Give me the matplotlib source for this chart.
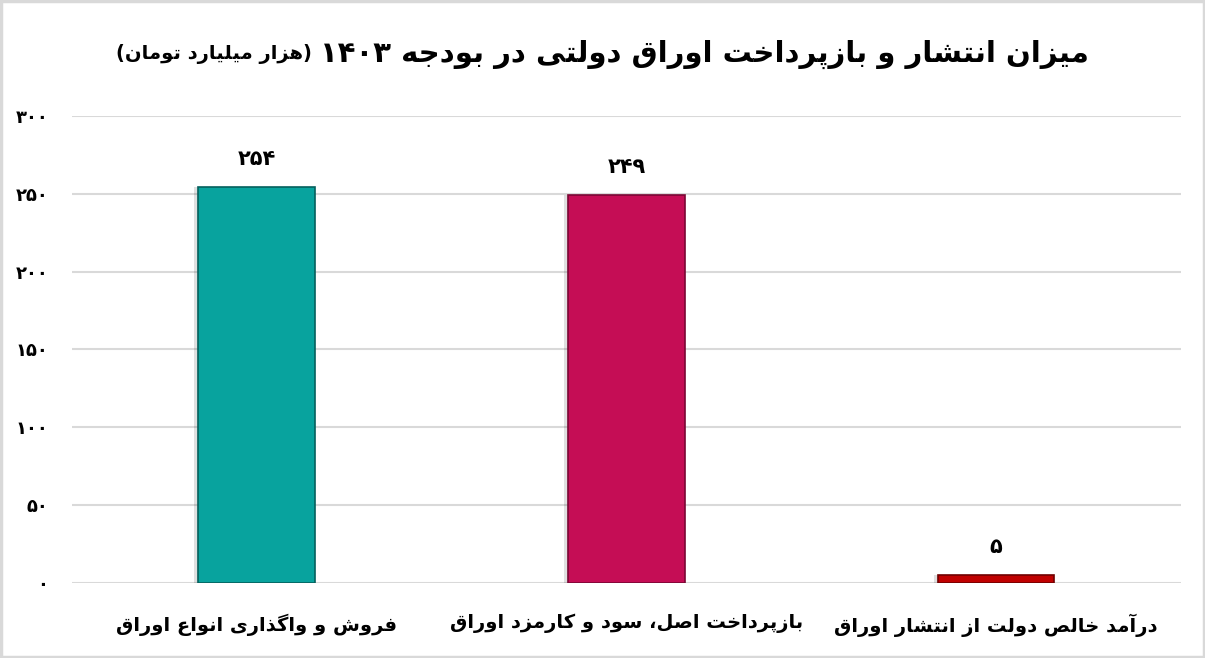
import re
import matplotlib
matplotlib.use('Agg')
import matplotlib.pyplot as plt
import matplotlib.transforms as mtransforms
from matplotlib.patches import Rectangle

# data
categories = ['فروش و واگذاری انواع اوراق',
              'بازپرداخت اصل، سود و کارمزد اوراق',
              'درآمد خالص دولت از انتشار اوراق']
values = [254, 249, 5]
colors = ['#08a39e', '#c50d55', '#c00000']
edge_colors = ['#05605d', '#7a0634', '#700000']
yticks = [0, 50, 100, 150, 200, 250, 300]
title_main = 'میزان انتشار و بازپرداخت اوراق دولتی در بودجه ۱۴۰۳'
title_unit = '(هزار میلیارد تومان)'

# --- minimal arabic/persian shaping (matplotlib has no RTL layout) ---
FORMS = {
    'ا': '\ufe8d\ufe8e', 'آ': '\ufe81\ufe82', 'د': '\ufea9\ufeaa', 'ذ': '\ufeab\ufeac',
    'ر': '\ufead\ufeae', 'ز': '\ufeaf\ufeb0', 'و': '\ufeed\ufeee',
    'ب': '\ufe8f\ufe90\ufe91\ufe92', 'پ': '\ufb56\ufb57\ufb58\ufb59',
    'ت': '\ufe95\ufe96\ufe97\ufe98', 'ج': '\ufe9d\ufe9e\ufe9f\ufea0',
    'خ': '\ufea5\ufea6\ufea7\ufea8', 'س': '\ufeb1\ufeb2\ufeb3\ufeb4',
    'ش': '\ufeb5\ufeb6\ufeb7\ufeb8', 'ص': '\ufeb9\ufeba\ufebb\ufebc',
    'ع': '\ufec9\ufeca\ufecb\ufecc', 'ف': '\ufed1\ufed2\ufed3\ufed4',
    'ق': '\ufed5\ufed6\ufed7\ufed8', 'ک': '\ufb8e\ufb8f\ufb90\ufb91',
    'گ': '\ufb92\ufb93\ufb94\ufb95', 'ل': '\ufedd\ufede\ufedf\ufee0',
    'م': '\ufee1\ufee2\ufee3\ufee4', 'ن': '\ufee5\ufee6\ufee7\ufee8',
    'ه': '\ufee9\ufeea\ufeeb\ufeec', 'ی': '\ufbfc\ufbfd\ufbfe\ufbff',
}
MIRROR = {'(': ')', ')': '('}


def rtl(s):
    out = []
    for i, c in enumerate(s):
        f = FORMS.get(c)
        if f is None:
            out.append(c)
            continue
        prev = s[i - 1] if i > 0 else ''
        nxt = s[i + 1] if i + 1 < len(s) else ''
        jp = prev in FORMS and len(FORMS[prev]) == 4
        jn = len(f) == 4 and nxt in FORMS
        if jp and jn:
            out.append(f[3])
        elif jp:
            out.append(f[1])
        elif jn:
            out.append(f[2])
        else:
            out.append(f[0])
    shaped = ''.join(out)
    tokens = re.findall(r'[0-9\u06f0-\u06f9]+|[^0-9\u06f0-\u06f9]+', shaped)
    res = []
    for t in reversed(tokens):
        if t[0].isdigit():
            res.append(t)
        else:
            res.append(''.join(MIRROR.get(c, c) for c in reversed(t)))
    return ''.join(res)


def fa(n):
    return str(n).translate(str.maketrans('0123456789', '۰۱۲۳۴۵۶۷۸۹'))


plt.rcParams['font.family'] = ['DejaVu Sans']
plt.rcParams['font.weight'] = 'bold'

fig = plt.figure(figsize=(12.05, 6.58), dpi=100)
fig.patches.append(Rectangle((0.001, 0.002), 0.998, 0.996, transform=fig.transFigure,
                             fill=False, edgecolor='#d9d9d9', lw=2.5))

ax = fig.add_axes([0.0598, 0.114, 0.920, 0.710])
x = list(range(len(values)))

# soft shadow on the left of each bar
shadow = mtransforms.offset_copy(ax.transData, fig=fig, x=-4, y=0, units='dots')
ax.bar(x, values, width=0.316, color='#000000', alpha=0.12, transform=shadow, zorder=2)
bars = ax.bar(x, values, width=0.316, color=colors, edgecolor=edge_colors,
              linewidth=1.2, zorder=3)

for xi, v in zip(x, values):
    ax.annotate(fa(v), (xi, v), xytext=(0, 13), textcoords='offset points',
                ha='center', va='bottom', fontsize=15, fontweight='bold')

ax.set_xlim(-0.5, 2.5)
ax.set_ylim(0, 300)
ax.set_yticks(yticks)
ax.set_yticklabels([fa(t) for t in yticks], fontsize=13, fontweight='bold')
ax.set_xticks(x)
ax.set_xticklabels([rtl(c) for c in categories], fontsize=14, fontweight='bold')
ax.tick_params(axis='both', length=0)
ax.tick_params(axis='y', pad=17)
ax.tick_params(axis='x', pad=22)
ax.grid(axis='y', color='#d9d9d9', lw=1.5, zorder=0)
ax.set_axisbelow(True)
for s in ax.spines.values():
    s.set_visible(False)

# title: main part and smaller unit part, centred together
t1 = fig.text(0.5, 0.918, rtl(title_main), fontsize=21, fontweight='bold',
              ha='left', va='center')
t2 = fig.text(0.5, 0.918, rtl(title_unit), fontsize=14, fontweight='bold',
              ha='left', va='center')
fig.canvas.draw()
r = fig.canvas.get_renderer()
w1 = t1.get_window_extent(r).width / fig.bbox.width
w2 = t2.get_window_extent(r).width / fig.bbox.width
gap = 8 / fig.bbox.width
left = 0.5 - (w1 + w2 + gap) / 2
t2.set_x(left)
t1.set_x(left + w2 + gap)

fig.savefig('out.png', dpi=100)
